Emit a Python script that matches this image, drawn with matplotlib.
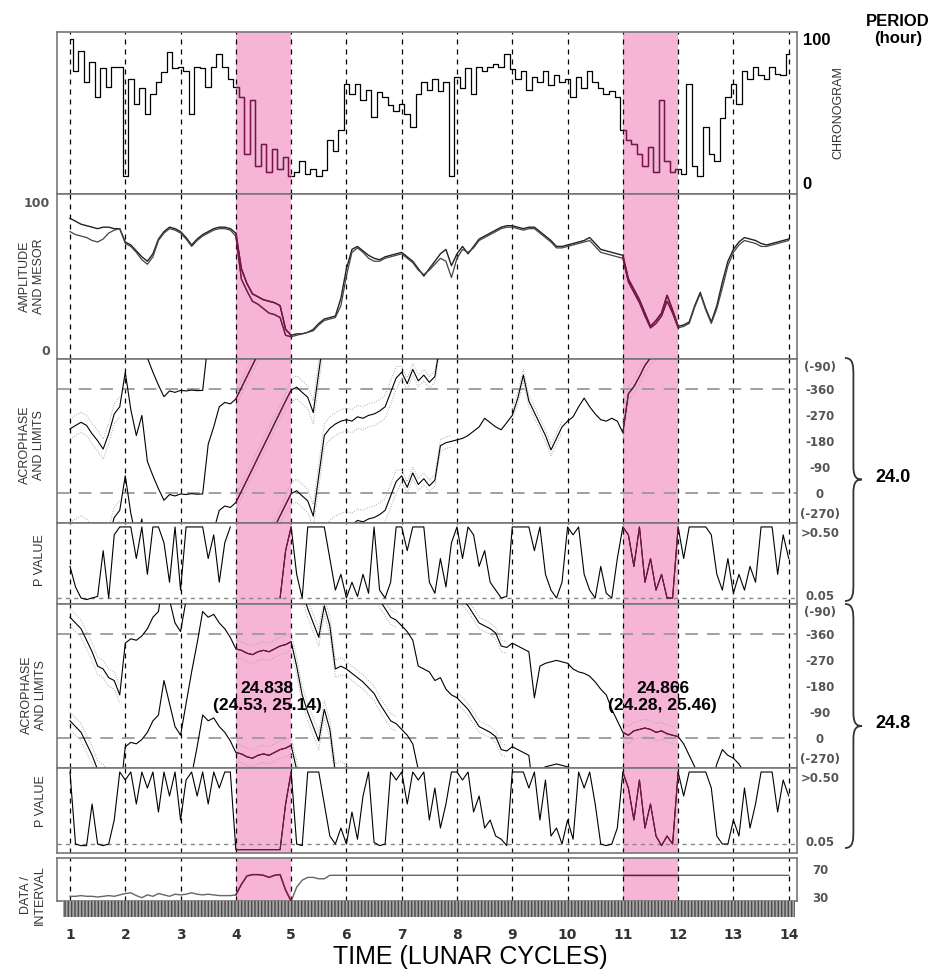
import numpy as np
import matplotlib.pyplot as plt
from matplotlib.patches import Rectangle, PathPatch
from matplotlib.path import Path

W, H = 930, 975
NARROW = ['Liberation Sans Narrow', 'Liberation Sans', 'DejaVu Sans']
plt.rcParams['font.family'] = NARROW
plt.rcParams['hatch.linewidth'] = 1.0

# sample times (lunar cycles), one value every 0.1 cycle
cycles = np.round(np.arange(1.0, 14.05, 0.1), 1)
bands = [(4, 5), (11, 12)]

# chronogram (0-100)
chrono = [100, 78, 92, 70, 84, 60, 80, 67, 81, 81,
          5, 72, 55, 66, 48, 62, 70, 77, 91, 80,
          81, 78, 48, 81, 80, 67, 81, 90, 81, 72,
          67, 60, 20, 58, 12, 27, 8, 24, 10, 18,
          5, 8, 15, 6, 10, 5, 9, 30, 22, 37,
          69, 62, 69, 58, 65, 46, 63, 60, 54, 50,
          55, 48, 39, 62, 70, 65, 72, 64, 70, 5,
          74, 66, 80, 62, 81, 78, 81, 83, 81, 90,
          79, 72, 78, 65, 74, 70, 78, 68, 75, 70,
          72, 60, 74, 66, 78, 70, 66, 62, 64, 60,
          37, 30, 27, 20, 12, 25, 8, 58, 15, 8,
          10, 6, 69, 12, 5, 39, 20, 15, 45, 60,
          69, 55, 78, 72, 81, 75, 72, 81, 76, 75,
          90]

# amplitude and mesor
mesor = [89, 87, 85, 84, 83, 82, 83, 83, 82, 82,
         73, 71, 67, 63, 60, 65, 75, 80, 83, 82,
         80, 76, 71, 75, 78, 80, 82, 83, 83, 82,
         79, 55, 45, 38, 36, 34, 33, 32, 30, 14,
         10, 11, 11, 12, 14, 18, 21, 22, 23, 35,
         55, 68, 70, 67, 64, 62, 61, 63, 64, 65,
         66, 63, 60, 55, 50, 55, 60, 65, 68, 57,
         65, 70, 65, 70, 75, 77, 79, 81, 83, 84,
         84, 83, 82, 83, 83, 80, 77, 74, 70, 70,
         71, 72, 73, 74, 76, 72, 68, 67, 66, 65,
         64, 48, 41, 34, 25, 16, 20, 25, 37, 27,
         16, 17, 19, 30, 39, 28, 19, 30, 46, 60,
         68, 73, 76, 75, 74, 72, 71, 72, 73, 74,
         75]
amplitude = [80, 78, 77, 76, 74, 73, 75, 79, 81, 82,
             72, 70, 66, 61, 58, 63, 74, 79, 82, 81,
             79, 75, 70, 74, 77, 79, 81, 82, 82, 81,
             77, 48, 40, 33, 31, 28, 25, 24, 22, 10,
             9, 10, 11, 12, 13, 17, 20, 21, 22, 30,
             50, 66, 69, 66, 62, 60, 60, 62, 63, 64,
             65, 62, 59, 54, 51, 54, 58, 62, 60, 49,
             62, 68, 66, 69, 74, 76, 78, 80, 82, 83,
             83, 82, 81, 82, 82, 79, 76, 73, 69, 69,
             70, 71, 72, 73, 74, 70, 66, 65, 64, 63,
             62, 46, 39, 32, 23, 15, 18, 23, 33, 25,
             15, 16, 18, 29, 38, 27, 18, 28, 42, 57,
             66, 71, 74, 73, 72, 70, 70, 71, 72, 73,
             74]

# acrophase (degrees) for the 24.0 h and 24.8 h periods
acro_24 = [-223, -235, -246, -235, -206, -182, -153, -206, -275, -300,
           -60, -290, -200, -270, -110, -60, -15, -335, -355, -350,
           -357, -355, -358, -356, -357, -170, -230, -300, -315, -310,
           -327, -6, -45, -84, -124, -163, -202, -242, -281, -320,
           -358, -8, -350, -333, -280, -60, -200, -225, -240, -250,
           -255, -250, -265, -260, -270, -275, -285, -300, -350, -40,
           -60, -20, -70, -30, -50, -25, -45, -165, -175, -180,
           -185, -190, -200, -215, -230, -260, -245, -230, -220, -245,
           -270, -330, -50, -320, -280, -240, -200, -150, -190, -230,
           -250, -265, -300, -330, -300, -275, -255, -250, -260, -250,
           -210, -345, -10, -45, -84, -110, -140, -170, -195, -215,
           -229, -225, -200, -320, -40, -300, -20, -330, -130, -250,
           -160, -200, -215, -210, -225, -215, -220, -230, -240, -130,
           -280]
acro_248 = [-60, -40, -20, -340, -300, -250, -240, -210, -200, -150,
            -330, -345, -340, -355, -20, -60, -80, -200, -120, -40,
            -10, -120, -230, -330, -80, -60, -70, -40, -20, -350,
            -310, -305, -295, -290, -300, -305, -300, -310, -320, -325,
            -335, -250, -150, -90, -40, -350, -100, -30, -240, -250,
            -240, -225, -210, -195, -175, -155, -120, -90, -60, -50,
            -30, -10, -340, -250, -240, -230, -200, -210, -170, -150,
            -140, -120, -100, -70, -40, -30, -20, -5, -320, -315,
            -330, -320, -310, -300, -140, -250, -260, -265, -270, -265,
            -260, -240, -230, -225, -215, -195, -170, -150, -100, -60,
            -20, -10, -25, -30, -35, -30, -20, -25, -15, -10,
            -5, -340, -300, -260, -140, -220, -200, -270, -320, -300,
            -290, -270, -240, -230, -200, -180, -150, -110, -80, -330,
            -30]
# half-width of the acrophase limits, one value per cycle (0 = not drawn)
ci_24 = [35, 0, 0, 25, 40, 40, 20, 0, 20, 0, 25, 0, 0]
ci_248 = [30, 0, 0, 30, 30, 25, 0, 20, 0, 0, 30, 0, 0]

# p values (nan = not shown)
nan = np.nan
p_24 = [.25, .12, .05, .04, .05, .06, .35, .05, .45, .50,
        .50, .50, .30, .50, .20, .50, .50, .40, .15, .50,
        .10, .50, .50, .50, .50, .30, .45, .15, .40, .50,
        nan, nan, nan, nan, nan, nan, nan, nan, .05, .35,
        .50, .20, .05, .50, .50, .50, .50, .30, .10, .20,
        .05, .15, .06, .20, .08, .50, .10, .05, .15, .50,
        .50, .35, .50, .50, .50, .15, .08, .30, .12, .40,
        .50, .30, .50, .45, .25, .35, .15, .10, .05, .06,
        .50, .50, .50, .50, .35, .50, .20, .10, .05, .15,
        .50, .45, .50, .20, .10, .05, .25, .08, .05, .30,
        .50, .45, .25, .50, .15, .30, .10, .20, .05, .05,
        .50, .30, .50, .50, .50, .50, .45, .20, .10, .30,
        .08, .20, .10, .25, .15, .50, .50, .50, .20, .45,
        .30]
p_248 = [.50, .05, .04, .04, .30, .05, .04, .05, .20, .50,
         .45, .50, .30, .50, .40, .50, .25, .50, .35, .50,
         .20, .45, .50, .35, .50, .30, .50, .40, .50, .50,
         .015, .015, .015, .015, .015, .015, .015, .015, .015, .30,
         .50, .05, .04, .50, .50, .50, .30, .10, .05, .15,
         .05, .25, .08, .35, .50, .06, .04, .05, .50, .45,
         .50, .30, .50, .45, .50, .20, .40, .15, .30, .50,
         .50, .45, .50, .25, .35, .15, .20, .10, .08, .04,
         .50, .50, .50, .40, .50, .20, .45, .10, .15, .05,
         .20, .08, .50, .40, .50, .30, .05, .04, .05, .15,
         .50, .40, .20, .45, .15, .30, .10, .04, .10, .05,
         .50, .35, .50, .50, .50, .50, .40, .10, .05, .05,
         .20, .10, .40, .15, .30, .50, .50, .50, .25, .45,
         .35]

# data / interval
data_interval = [31, 31, 32, 31, 31, 30, 31, 32, 31, 33,
                 35, 36, 32, 29, 33, 31, 35, 33, 31, 34,
                 33, 34, 36, 34, 33, 34, 33, 32, 32, 32,
                 33, 48, 60, 62, 62, 61, 58, 61, 62, 40,
                 24, 44, 54, 58, 58, 56, 56, 61, 61, 61] + [61] * 81

acro_labels = ['(-90)', '-360', '-270', '-180', '-90', '0', '(-270)']
p_labels = ['>0.50', '0.05']

PINK = '#f6b4d7'
MAROON = '#7d1448'
FRAME = '#777777'
TICK = '#555555'
XMIN, XMAX = 0.765, 14.15

fig = plt.figure(figsize=(W / 100, H / 100), dpi=100)


def box(x0, y0, x1, y1):
    return [x0 / W, 1 - y1 / H, (x1 - x0) / W, (y1 - y0) / H]


def panel(y0, y1):
    ax = fig.add_axes(box(57, y0, 797, y1))
    ax.set_xlim(XMIN, XMAX)
    ax.set_xticks([])
    for s in ax.spines.values():
        s.set_color(FRAME)
        s.set_linewidth(1.2)
    for b0, b1 in bands:
        ax.axvspan(b0, b1, color=PINK, lw=0, zorder=0)
    for c in range(1, 15):
        ax.axvline(c, color='black', lw=0.9, ls=(0, (4, 4)), zorder=1)
    return ax


def trace(ax, x, y, color='black', lw=0.8, **kw):
    ax.plot(x, y, color=color, lw=lw, zorder=3, **kw)
    for b0, b1 in bands:
        m = (x >= b0 - 1e-9) & (x <= b1 + 1e-9)
        ax.plot(x[m], y[m], color=MAROON, lw=lw, zorder=4, **kw)


def right_ticks(ax, vals, labels, size=8.5, color=TICK, pad=16.5, ha='center',
                family='DejaVu Sans'):
    ax.yaxis.tick_right()
    ax.set_yticks(vals)
    ax.set_yticklabels(labels, fontsize=size, fontweight='bold', color=color,
                       family=family)
    ax.tick_params(axis='y', length=0, pad=pad)
    for t in ax.get_yticklabels():
        t.set_ha(ha)


x = cycles

# chronogram
ax = panel(32, 194)
ax.set_ylim(-7.6, 105)
trace(ax, x, np.array(chrono, float), lw=0.9, drawstyle='steps-mid')
right_ticks(ax, [100, 0], ['100', '0'], size=12, color='black', pad=4,
            ha='left', family=['Liberation Sans', 'DejaVu Sans'])

# amplitude and mesor
ax = panel(194, 359)
ax.set_ylim(-6, 105.4)
trace(ax, x, np.array(mesor, float), color='#222222', lw=1.0)
trace(ax, x, np.array(amplitude, float), color='#444444', lw=0.9)
ax.set_yticks([100, 0])
ax.set_yticklabels(['100', '0'], fontsize=9, fontweight='bold', color=TICK,
                   family='DejaVu Sans')
ax.tick_params(axis='y', length=0, pad=5)


def acro_panel(y0, y1, phase, ci, bottom):
    ax = panel(y0, y1)
    ax.set_ylim(bottom, -466)
    ax.axhline(-360, color='#999999', lw=1.3, ls=(0, (7, 5)), zorder=2)
    ax.axhline(0, color='#999999', lw=1.3, ls=(0, (7, 5)), zorder=2)
    u = np.unwrap(np.array(phase, float), period=360)
    half = np.append(np.repeat(np.array(ci, float), 10), ci[-1])
    half[half == 0] = np.nan
    for k in range(-3, 4):
        for sgn in (-1, 1):
            ax.plot(x, u + 360 * k + sgn * half, color='#aaaaaa', lw=0.7,
                    ls=(0, (1, 1.5)), zorder=2)
        trace(ax, x, u + 360 * k)
    # end labels sit a little inside the frame, as in the original
    right_ticks(ax, [-440, -360, -270, -180, -90, 0, 70], acro_labels)
    return ax


def p_panel(y0, y1, p, bottom):
    ax = panel(y0, y1)
    ax.set_ylim(bottom, 0.525)
    ax.axhline(0.05, color='#888888', lw=1.0, ls=(0, (3, 3)), zorder=2)
    trace(ax, x, np.array(p, float))
    right_ticks(ax, [0.47, 0.07], p_labels)
    return ax


acro_panel(359, 523, acro_24, ci_24, 104)
p_panel(523, 604, p_24, 0.012)
ax2 = acro_panel(604, 768, acro_248, ci_248, 104)
p_panel(768, 853, p_248, -0.006)

ax2.text(4.57, -143, '24.838\n(24.53, 25.14)', ha='center', va='center',
         fontsize=12.5, fontweight='bold', linespacing=1.15, zorder=6)
ax2.text(11.72, -143, '24.866\n(24.28, 25.46)', ha='center', va='center',
         fontsize=12.5, fontweight='bold', linespacing=1.15, zorder=6)

# data / interval
ax = panel(858, 901)
ax.set_ylim(24.3, 85.7)
trace(ax, x, np.array(data_interval, float), color='#666666', lw=1.0)
right_ticks(ax, [70, 30], ['70', '30'])

# sampling strip with tick labels
sx = fig.add_axes(box(63, 901, 795, 917))
sx.set_xlim(XMIN + 6 / 55.4, XMAX - 2 / 55.4)
sx.set_ylim(0, 1)
sx.add_patch(Rectangle((0, 0), 1, 1, transform=sx.transAxes,
                       facecolor='#a5a5a5', edgecolor='#4a4a4a', lw=0,
                       hatch='|||||'))
for s in sx.spines.values():
    s.set_visible(False)
sx.set_yticks([])
sx.set_xticks(range(1, 15))
sx.set_xticklabels([str(i) for i in range(1, 15)], fontsize=10,
                   fontweight='bold', color='#333333', family='DejaVu Sans')
sx.tick_params(axis='x', length=0, pad=8)

# overlay for free text and braces (pixel coordinates)
ov = fig.add_axes([0, 0, 1, 1], zorder=10)
ov.set_xlim(0, W)
ov.set_ylim(H, 0)
ov.axis('off')
ov.patch.set_alpha(0)


def brace(x0, y0, y1, w=12):
    ym = (y0 + y1) / 2
    xv = x0 + w * 0.7
    tip = x0 + w * 1.4
    verts = [(x0, y0), (xv, y0), (xv, y0 + 8), (xv, y0 + 18),
             (xv, ym - 14),
             (xv, ym - 4), (xv + 2, ym), (tip, ym),
             (xv + 2, ym), (xv, ym + 4), (xv, ym + 14),
             (xv, y1 - 18),
             (xv, y1 - 8), (xv, y1), (x0, y1)]
    codes = [Path.MOVETO] + [Path.CURVE4] * 3 + [Path.LINETO] + \
        [Path.CURVE4] * 6 + [Path.LINETO] + [Path.CURVE4] * 3
    ov.add_patch(PathPatch(Path(verts, codes), fill=False, lw=1.3,
                           edgecolor='#333333'))


brace(845, 358, 601)
brace(845, 604, 848)
ov.text(875, 478, '24.0', ha='left', va='center', fontsize=13,
        fontweight='bold')
ov.text(875, 723, '24.8', ha='left', va='center', fontsize=13,
        fontweight='bold')
ov.text(898, 30, 'PERIOD\n(hour)', ha='center', va='center', fontsize=12,
        fontweight='bold', linespacing=1.2)
ov.text(838, 113, 'CHRONOGRAM', rotation=90, ha='center', va='center',
        fontsize=9, color='#333333')

left_labels = [('AMPLITUDE\nAND MESOR', 32, 276),
               ('ACROPHASE\nAND LIMITS', 32, 445),
               ('P VALUE', 40, 560),
               ('ACROPHASE\nAND LIMITS', 34, 695),
               ('P VALUE', 41, 801),
               ('DATA /\nINTERVAL', 33, 895)]
for txt, lx, ly in left_labels:
    ov.text(lx, ly, txt, rotation=90, ha='center', va='center', fontsize=9,
            color='#333333', linespacing=1.25)

ov.text(470, 957, 'TIME (LUNAR CYCLES)', ha='center', va='center',
        fontsize=18)

fig.savefig('out.png', dpi=100)
